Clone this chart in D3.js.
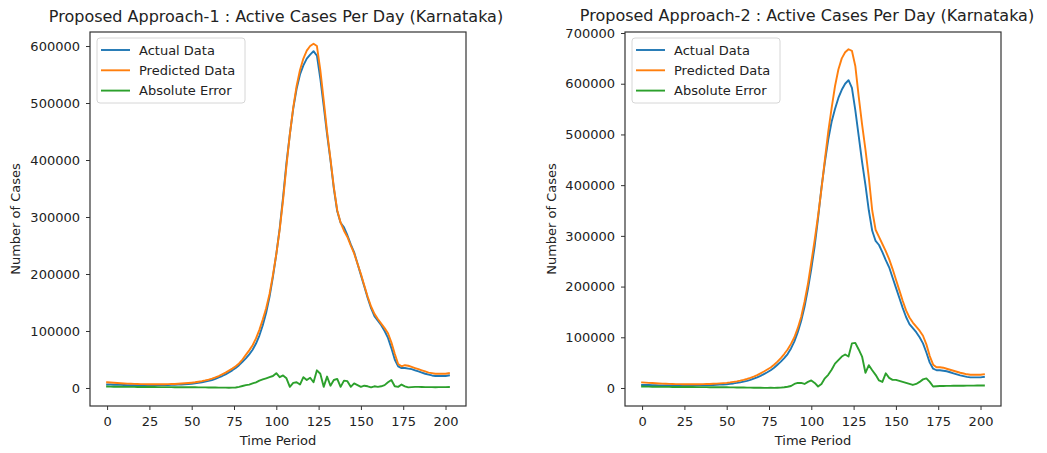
<!DOCTYPE html>
<html><head><meta charset="utf-8">
<script src="https://cdn.jsdelivr.net/npm/d3@7"></script>
<style>
body{margin:0;background:#fff;}
svg{display:block;font-family:"DejaVu Sans",sans-serif;}
</style></head><body>
<svg id="chart" width="1047" height="453"></svg>
<script>
// ---- data (values in thousands of cases) ----
const timeSteps = [0,2,4,6,8,10,12,14,16,18,20,22,24,26,28,30,32,34,36,38,40,42,44,46,48,50,
 52,54,56,58,60,62,64,66,68,70,72,74,76,78,80,82,84,86,88,90,92,94,96,98,100,
 102,104,106,108,110,112,114,116,118,120,122,124,126,128,130,132,134,136,138,140,142,144,146,148,150,
 152,154,156,158,160,162,164,166,168,170,172,174,176,178,180,182,184,186,188,190,192,194,196,198,200,202];

const actual1K = [6,6,5.8,5.6,5.4,5.2,5,5,4.8,4.8,4.7,4.7,4.7,4.7,4.8,4.9,5,5.1,5.2,5.4,5.6,5.9,6.2,6.6,7,7.5,
 8.2,9,10,11.2,12.5,14,16,18.5,21,24,27.5,31,35,40,46,52,59,67,78,92,110,132,160,195,235,
 280,335,395,445,490,525,550,566,578,585,591,583,543,495,445,400,350,310,290,282,268,252,238,218,198,
 178,158,140,126,118,110,100,88,70,50,38,35,35,34,33,31,29,27,25,23.5,22,21,21,21,21,22];

const predicted1K = [10,9.6,9.2,8.8,8.4,8,7.7,7.4,7.2,7,6.8,6.7,6.6,6.5,6.5,6.5,6.5,6.6,6.7,6.9,7.1,7.4,7.8,8.2,8.7,9.3,
 10,11,12,13.3,14.8,16.5,18.5,21,24,27,30.5,34,38,43,50,58,66,75,87,102,120,140,165,198,235,
 278,330,390,445,492,530,558,578,592,600,604,600,558,505,450,402,352,312,290,276,265,250,236,218,200,
 180,160,143,130,121,113,105,96,80,60,42,38,40,39,37,35,33,31,29,27,26,25,25,25,25,26];

const error1K = [2.5,2.4,2.3,2.2,2.1,2,2,1.9,1.9,1.8,1.8,1.8,1.7,1.7,1.7,1.6,1.6,1.5,1.5,1.5,1.4,1.4,1.5,1.4,1.3,1.3,
 1.2,1.1,1,1,0.9,0.8,0.8,0.7,0.6,0.6,0.5,0.6,0.8,2,3.5,5,6,8,10,13,15,17,19,21,26,
 19,22,17,2,9,10,6,19,14,18,10,31,25,2,20,4,14,16,2,13,12,2,8,5,2,
 4,3,1,3,2,3,5,10,14,3,2,6,3,1,1.5,2,2,1.8,1.6,1.5,1.5,1.4,1.5,1.5,1.6,1.7];

const actual2K = [6,6,5.8,5.6,5.4,5.2,5,5,4.8,4.8,4.7,4.7,4.7,4.7,4.8,4.9,5,5.1,5.2,5.4,5.6,5.9,6.2,6.6,7,7.5,
 8.2,9,10,11.2,12.5,14,16,18.5,21,24,27.5,31,35,40,46,52,59,67,78,92,110,132,160,195,235,
 280,335,395,445,490,525,550,572,588,600,607,592,548,497,446,400,350,310,290,282,268,252,238,218,198,
 178,158,140,126,118,110,100,88,70,50,38,35,35,34,33,31,29,27,25,23.5,22,21,21,21,21,22];

const predicted2K = [11,10.6,10.2,9.8,9.4,9,8.7,8.4,8.1,7.9,7.7,7.6,7.5,7.4,7.4,7.4,7.4,7.5,7.6,7.8,8,8.3,8.7,9.1,9.6,10.2,
 11,12,13,14.4,16,17.8,20,22.5,25.5,29,32.5,36.5,40.5,46,52,59,67,76,87,100,118,140,170,205,248,
 292,340,392,450,505,552,595,628,650,662,668,665,635,575,520,470,415,350,312,298,284,270,254,235,214,
 193,172,153,139,129,121,113,103,86,63,46,41,41,40,38,36,34,32,30,28.5,27,26,26,26,26,27];

const error2K = [3,2.8,2.7,2.6,2.5,2.4,2.3,2.2,2.2,2.1,2.1,2,2,1.9,1.9,1.9,1.8,1.8,1.7,1.7,1.6,1.6,1.5,1.5,1.4,1.4,
 1.3,1.2,1.1,1,0.9,0.8,0.7,0.6,0.5,0.4,0.3,0.3,0.4,0.3,0.5,0.8,1.5,2.5,4,8,10,10,8,12,15,
 10,3,8,19,26,36,48,55,62,66,62,88,89,76,62,30,45,35,26,15,12,29,20,16,16,
 14,12,10,8,6,8,12,17,19,12,3,3.5,4,4,4.2,4.2,4.3,4.4,4.5,4.5,4.6,4.6,4.7,4.8,4.8,5];

const xTicks = [0,25,50,75,100,125,150,175,200];
const yTicks1 = [0,100000,200000,300000,400000,500000,600000];
const yTicks2 = [0,100000,200000,300000,400000,500000,600000,700000];
const seriesNames = ["Actual Data","Predicted Data","Absolute Error"];
const seriesColors = ["#1f77b4","#ff7f0e","#2ca02c"];
const titles = ["Proposed Approach-1 : Active Cases Per Day (Karnataka)",
                "Proposed Approach-2 : Active Cases Per Day (Karnataka)"];

// ---- layout ----
const panels = [
  {title:titles[0], series:[actual1K,predicted1K,error1K], yTicks:yTicks1, yDomain:[-31600,624600],
   left:90, right:466, top:32, bottom:406, titleX:276, titleY:22, yLabelX:19.5},
  {title:titles[1], series:[actual2K,predicted2K,error2K], yTicks:yTicks2, yDomain:[-35500,702000],
   left:625, right:1001, top:32, bottom:406, titleX:807, titleY:21, yLabelX:556}
];

const svg = d3.select("#chart");
svg.append("rect").attr("width",1047).attr("height",453).attr("fill","#fff");

panels.forEach(p => {
  const x = d3.scaleLinear().domain([-10.1,212.1]).range([p.left,p.right]);
  const y = d3.scaleLinear().domain(p.yDomain).range([p.bottom,p.top]);
  const g = svg.append("g");

  const clipId = "clip"+p.left;
  g.append("clipPath").attr("id",clipId).append("rect")
    .attr("x",p.left).attr("y",p.top).attr("width",p.right-p.left).attr("height",p.bottom-p.top);

  const line = d3.line().x((d,i)=>x(timeSteps[i])).y(d=>y(d*1000));
  const lg = g.append("g").attr("clip-path",`url(#${clipId})`);
  p.series.forEach((s,k)=>{
    lg.append("path").attr("d",line(s)).attr("fill","none")
      .attr("stroke",seriesColors[k]).attr("stroke-width",1.9)
      .attr("stroke-linejoin","round").attr("stroke-linecap","square");
  });

  // axes
  const xAxis = d3.axisBottom(x).tickValues(xTicks).tickSize(4).tickPadding(7).tickFormat(d3.format("d"));
  const yAxis = d3.axisLeft(y).tickValues(p.yTicks).tickSize(4).tickPadding(6).tickFormat(d3.format("d"));
  const gx = g.append("g").attr("transform",`translate(0,${p.bottom})`).call(xAxis);
  const gy = g.append("g").attr("transform",`translate(${p.left},0)`).call(yAxis);
  [gx,gy].forEach(a=>{
    a.select(".domain").remove();
    a.selectAll(".tick line").attr("stroke","#333").attr("stroke-width",1);
    a.selectAll(".tick text").attr("fill","#222").style("font-size","13px").style("font-family","DejaVu Sans");
  });

  // frame
  g.append("rect").attr("x",p.left).attr("y",p.top).attr("width",p.right-p.left).attr("height",p.bottom-p.top)
    .attr("fill","none").attr("stroke","#333").attr("stroke-width",1.2);

  // titles and labels
  g.append("text").attr("x",p.titleX).attr("y",p.titleY).attr("text-anchor","middle")
    .attr("fill","#222").style("font-size","16px").text(p.title);
  g.append("text").attr("x",(p.left+p.right)/2).attr("y",444.5).attr("text-anchor","middle")
    .attr("fill","#222").style("font-size","13px").text("Time Period");
  g.append("text").attr("transform",`translate(${p.yLabelX},${(p.top+p.bottom)/2}) rotate(-90)`)
    .attr("text-anchor","middle").attr("fill","#222").style("font-size","13px").text("Number of Cases");

  // legend
  const lx = p.left+7, ly = 38;
  const leg = g.append("g");
  leg.append("rect").attr("x",lx).attr("y",ly).attr("width",148).attr("height",65).attr("rx",3)
    .attr("fill","#fff").attr("fill-opacity",0.8).attr("stroke","#d6d6d6");
  seriesNames.forEach((n,k)=>{
    const yy = ly+12+k*20.3;
    leg.append("line").attr("x1",lx+4).attr("x2",lx+33).attr("y1",yy).attr("y2",yy)
      .attr("stroke",seriesColors[k]).attr("stroke-width",1.9);
    leg.append("text").attr("x",lx+42).attr("y",yy).attr("dy","0.36em")
      .attr("fill","#222").style("font-size","13px").text(n);
  });
});
</script>
</body></html>
